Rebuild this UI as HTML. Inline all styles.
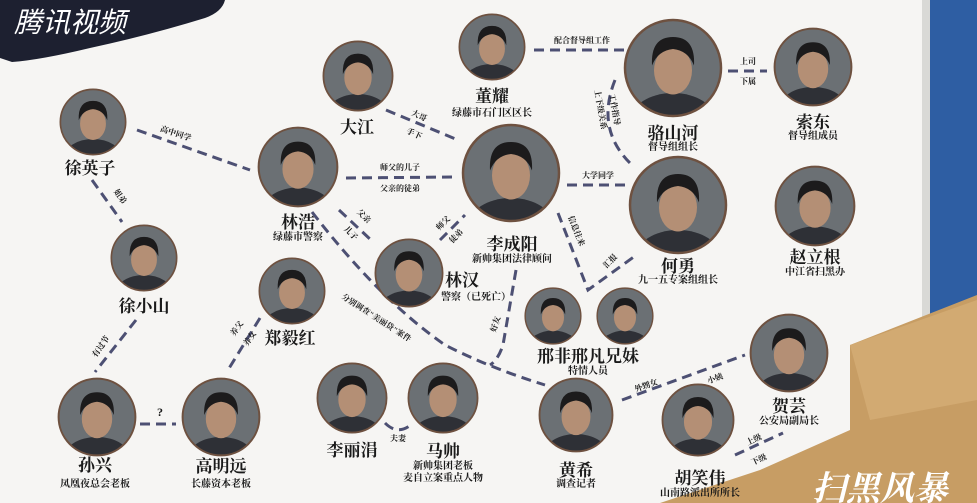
<!DOCTYPE html>
<html><head><meta charset="utf-8"><style>
body{margin:0;width:977px;height:503px;overflow:hidden;background:#f6f5f3;}
svg{display:block}
text{font-family:"Liberation Serif","Noto Serif CJK SC","Noto Sans CJK SC",serif;fill:#1a1a1a;text-anchor:middle}
.n{font-size:17px;font-weight:bold}
.s{font-size:10px;font-weight:bold}
.l{font-size:8px;font-weight:bold}
.d{stroke:#4d5073;stroke-width:3;stroke-dasharray:10 6;fill:none}
</style></head><body>
<svg width="977" height="503" viewBox="0 0 977 503">
<defs>
<symbol id="p" viewBox="-1 -1 2 2">
<circle r="0.97" fill="#6b7074"/>
<clipPath id="c"><circle r="0.95"/></clipPath>
<g clip-path="url(#c)">
<ellipse cx="0" cy="1.05" rx="0.85" ry="0.55" fill="#2e3036"/>
<ellipse cx="0" cy="0.05" rx="0.38" ry="0.48" fill="#b48f75"/>
<path d="M-0.42,-0.05 Q-0.45,-0.62 0,-0.62 Q0.45,-0.62 0.42,-0.05 Q0.3,-0.35 0,-0.38 Q-0.3,-0.35 -0.42,-0.05Z" fill="#1c1b1c"/>
</g>
<circle r="0.96" fill="none" stroke="#6e5140" stroke-width="0.05"/>
</symbol>
</defs>
<!-- board frame & blue fabric -->
<rect x="928" y="0" width="49" height="320" fill="#2e5ea3"/>
<rect x="922" y="0" width="8" height="330" fill="#d9d9d6"/>
<!-- envelope -->
<polygon points="850,345 977,295 977,503 660,503 760,470 850,430" fill="#c79d64"/>
<polygon points="850,345 977,300 977,400 870,420" fill="#d2aa72"/>
<text x="880" y="500" style="font-size:34px;fill:#fff;font-weight:bold;font-style:italic">扫黑风暴</text>
<!-- brush logo -->
<path d="M0,0 L225,0 Q222,12 205,18 Q150,35 90,48 Q40,60 12,62 L0,58Z" fill="#1d2030"/>
<text x="70" y="32" style="font-size:28px;fill:#fff;font-style:italic;font-family:'Liberation Sans','Noto Sans CJK SC',sans-serif">腾讯视频</text>

<!-- connectors -->
<line class="d" x1="137" y1="130" x2="250" y2="170"/>
<line class="d" x1="92" y1="180" x2="122" y2="222"/>
<line class="d" x1="136" y1="320" x2="95" y2="372"/>
<line class="d" x1="140" y1="424" x2="176" y2="424"/>
<line class="d" x1="260" y1="318" x2="228" y2="370"/>
<line class="d" x1="386" y1="110" x2="458" y2="140"/>
<line class="d" x1="346" y1="178" x2="455" y2="177"/>
<line class="d" x1="534" y1="50" x2="625" y2="50"/>
<line class="d" x1="728" y1="71" x2="767" y2="71"/>
<path class="d" d="M615,80 Q595,130 632,165"/>
<line class="d" x1="567" y1="185" x2="626" y2="185"/>
<polyline class="d" points="558,213 588,290 635,256"/>
<line class="d" x1="339" y1="210" x2="371" y2="240"/>
<line class="d" x1="440" y1="240" x2="465" y2="215"/>
<path class="d" d="M516,270 L503,345 Q498,360 490,365"/>
<path class="d" d="M312,212 Q380,300 445,345 Q490,368 545,385"/>
<line class="d" x1="622" y1="400" x2="745" y2="355"/>
<line class="d" x1="735" y1="455" x2="783" y2="433"/>
<path class="d" d="M385,423 Q398,436 412,424"/>

<!-- labels -->
<text class="l" x="175" y="136" transform="rotate(18 175 136)">高中同学</text>
<text class="l" x="118" y="198" transform="rotate(55 118 198)">姐弟</text>
<text class="l" x="103" y="348" transform="rotate(-55 103 348)">有过节</text>
<text x="160" y="416" style="font-size:12px;font-weight:bold">?</text>
<text class="l" x="239" y="330" transform="rotate(-55 239 330)">养父</text>
<text class="l" x="252" y="340" transform="rotate(-55 252 340)">养女</text>
<text class="l" x="418" y="118" transform="rotate(25 418 118)">大哥</text>
<text class="l" x="413" y="136" transform="rotate(25 413 136)">手下</text>
<text class="l" x="400" y="170">师父的儿子</text>
<text class="l" x="400" y="191">父亲的徒弟</text>
<text class="l" x="582" y="43">配合督导组工作</text>
<text class="l" x="748" y="64">上司</text>
<text class="l" x="748" y="84">下属</text>
<text class="l" x="598" y="110" transform="rotate(80 598 110)">上下级关系</text>
<text class="l" x="612" y="110" transform="rotate(80 612 110)">工作指导</text>
<text class="l" x="598" y="178">大学同学</text>
<text class="l" x="574" y="232" transform="rotate(68 574 232)">信息往来</text>
<text class="l" x="612" y="263" transform="rotate(-45 612 263)">汇报</text>
<text class="l" x="362" y="218" transform="rotate(45 362 218)">父亲</text>
<text class="l" x="349" y="235" transform="rotate(45 349 235)">儿子</text>
<text class="l" x="445" y="225" transform="rotate(-45 445 225)">师父</text>
<text class="l" x="458" y="238" transform="rotate(-45 458 238)">徒弟</text>
<text class="l" x="498" y="325" transform="rotate(-72 498 325)">好友</text>
<text class="l" x="375" y="320" transform="rotate(33 375 320)">分别调查"美丽贷"案件</text>
<text class="l" x="647" y="388" transform="rotate(-20 647 388)">外甥女</text>
<text class="l" x="716" y="381" transform="rotate(-20 716 381)">小姨</text>
<text class="l" x="755" y="442" transform="rotate(-25 755 442)">上级</text>
<text class="l" x="760" y="462" transform="rotate(-25 760 462)">下级</text>
<text class="l" x="398" y="441">夫妻</text>

<!-- portraits -->
<use href="#p" x="59" y="88" width="68" height="68"/>
<use href="#p" x="110" y="224" width="68" height="68"/>
<use href="#p" x="57" y="377" width="80" height="80"/>
<use href="#p" x="181" y="377" width="80" height="80"/>
<use href="#p" x="258" y="257" width="68" height="68"/>
<use href="#p" x="257" y="126" width="82" height="82"/>
<use href="#p" x="322" y="40" width="72" height="72"/>
<use href="#p" x="458" y="13" width="68" height="68"/>
<use href="#p" x="461" y="123" width="100" height="100"/>
<use href="#p" x="623" y="18" width="100" height="100"/>
<use href="#p" x="773" y="27" width="80" height="80"/>
<use href="#p" x="628" y="155" width="100" height="100"/>
<use href="#p" x="774" y="165" width="82" height="82"/>
<use href="#p" x="374" y="238" width="70" height="70"/>
<use href="#p" x="524" y="287" width="58" height="58"/>
<use href="#p" x="596" y="287" width="58" height="58"/>
<use href="#p" x="749" y="313" width="80" height="80"/>
<use href="#p" x="316" y="362" width="72" height="72"/>
<use href="#p" x="407" y="362" width="72" height="72"/>
<use href="#p" x="538" y="377" width="76" height="76"/>
<use href="#p" x="661" y="383" width="74" height="74"/>

<!-- names -->
<text class="n" x="90" y="174">徐英子</text>
<text class="n" x="144" y="312">徐小山</text>
<text class="n" x="95" y="471">孙兴</text><text class="s" x="95" y="487">凤凰夜总会老板</text>
<text class="n" x="221" y="472">高明远</text><text class="s" x="221" y="487">长藤资本老板</text>
<text class="n" x="290" y="344">郑毅红</text>
<text class="n" x="298" y="228">林浩</text><text class="s" x="298" y="240">绿藤市警察</text>
<text class="n" x="357" y="133">大江</text>
<text class="n" x="492" y="102">董耀</text><text class="s" x="492" y="116">绿藤市石门区区长</text>
<text class="n" x="512" y="250">李成阳</text><text class="s" x="512" y="262">新帅集团法律顾问</text>
<text class="n" x="673" y="139">骆山河</text><text class="s" x="673" y="150">督导组组长</text>
<text class="n" x="813" y="128">索东</text><text class="s" x="813" y="139">督导组成员</text>
<text class="n" x="678" y="272">何勇</text><text class="s" x="678" y="283">九一五专案组组长</text>
<text class="n" x="815" y="263">赵立根</text><text class="s" x="815" y="275">中江省扫黑办</text>
<text class="n" x="462" y="286">林汉</text><text class="s" x="476" y="300">警察（已死亡）</text>
<text class="n" x="588" y="362">邢非邢凡兄妹</text><text class="s" x="588" y="374">特情人员</text>
<text class="n" x="789" y="412">贺芸</text><text class="s" x="789" y="424">公安局副局长</text>
<text class="n" x="352" y="456">李丽涓</text>
<text class="n" x="443" y="457">马帅</text><text class="s" x="443" y="469">新帅集团老板</text><text class="s" x="443" y="481">麦自立案重点人物</text>
<text class="n" x="576" y="476">黄希</text><text class="s" x="576" y="487">调查记者</text>
<text class="n" x="700" y="484">胡笑伟</text><text class="s" x="700" y="496">山南路派出所所长</text>
</svg>
</body></html>
